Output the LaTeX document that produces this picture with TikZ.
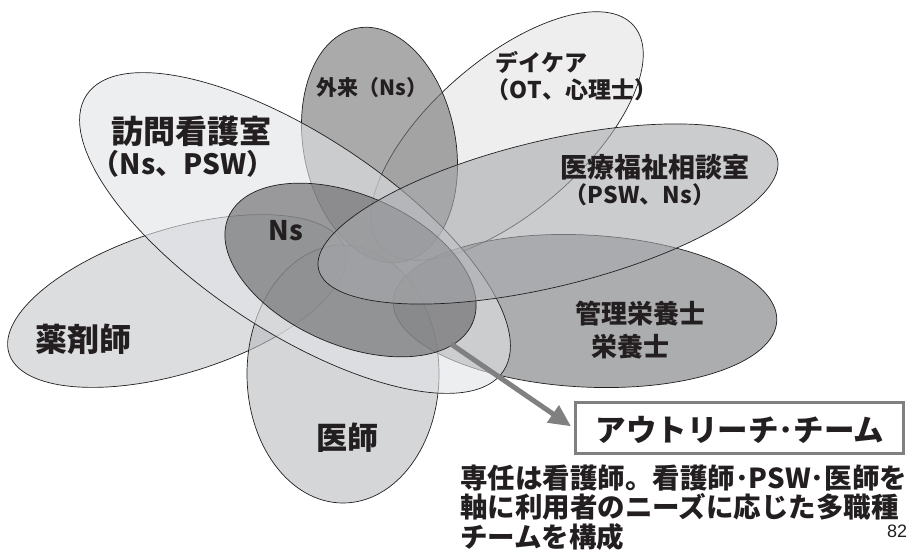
\documentclass[tikz,border=0pt]{standalone}
\usepackage{fontspec}
\setmainfont{Noto Sans CJK JP}
\newfontfamily\numfont{Liberation Sans}
\usetikzlibrary{arrows.meta}
\definecolor{cYaku}{RGB}{197,198,202}
\definecolor{cIshi}{RGB}{185,187,190}
\definecolor{cGai}{RGB}{113,113,113}
\definecolor{cDay}{RGB}{227,227,227}
\definecolor{cKan}{RGB}{116,118,121}
\definecolor{cHou}{RGB}{225,227,230}
\definecolor{cNs}{RGB}{98,98,100}
\definecolor{cIryo}{RGB}{168,170,173}
\definecolor{cInk}{RGB}{35,31,32}
\definecolor{cArrow}{RGB}{128,128,128}
\begin{document}
\begin{tikzpicture}[x=1pt,y=-1pt,
  petal/.style={fill opacity=0.6, draw=cInk, line width=0.7pt},
  lbl/.style={text=cInk, font=\bfseries\fontsize{#1}{#1}\selectfont, inner sep=0pt},
  teambox/.style={draw=cArrow, line width=3pt, fill=white, minimum width=328pt, minimum height=51pt, inner sep=0pt},
  bigarrow/.style={draw=cArrow, line width=5pt, -{Triangle[length=22pt,width=20pt]}}]
\useasboundingbox (0,0) rectangle (915,553);
% petals, bottom to top
\path[petal, fill=cDay, shift={(507,136)}, rotate=41] (0,0) ellipse [x radius=168pt, y radius=76pt];
\path[petal, fill=cYaku, shift={(177,301)}, rotate=17.3] (0,0) ellipse [x radius=176pt, y radius=72pt];
\path[petal, fill=cIshi, shift={(343,374)}] (0,0) ellipse [x radius=96pt, y radius=129pt];
\path[petal, fill=cGai, shift={(379.5,145)}, rotate=-79] (0,0) ellipse [x radius=119pt, y radius=76pt];
\path[petal, fill=cKan, shift={(585,311)}, rotate=-3] (0,0) ellipse [x radius=192pt, y radius=76pt];
\path[petal, fill=cHou, shift={(295,233)}, rotate=-33.5] (0,0) ellipse [x radius=250pt, y radius=98pt];
\path[petal, fill=cNs, shift={(350.5,270)}, rotate=-23.5] (0,0) ellipse [x radius=133pt, y radius=75pt];
\path[petal, fill=cIryo, shift={(548,214)}, rotate=13.6] (0,0) ellipse [x radius=236pt, y radius=73pt];
% labels
\node[lbl=21] (gairai) at (372,88) {外来（Ns）};
\node[lbl=23] (day1) at (541,62) {デイケア};
\node[lbl=23] (day2) at (572,90) {（OT、心理士）};
\node[lbl=32] (hou1) at (191,131) {訪問看護室};
\node[lbl=28] (hou2) at (183,164) {（Ns、PSW）};
\node[lbl=27] (ns) at (286,231) {Ns};
\node[lbl=27] (iryo1) at (655,167) {医療福祉相談室};
\node[lbl=23] (iryo2) at (640,195) {（PSW、Ns）};
\node[lbl=26] (kan1) at (640,314) {管理栄養士};
\node[lbl=26] (kan2) at (630,347) {栄養士};
\node[lbl=32] (yaku) at (83,339) {薬剤師};
\node[lbl=31] (ishi) at (347,438) {医師};
% outreach team
\node[teambox] (team) at (739,428) {};
\node[lbl=30.5] (teamtxt) at (740,430) {アウトリーチ･チーム};
\coordinate (arrowstart) at (451,344);
\draw[bigarrow, shorten >=3pt] (arrowstart) -- (team.west);
% description
\node[lbl=27.5, anchor=west] (desc1) at (460,478) {専任は看護師。看護師･PSW･医師を};
\node[lbl=27.5, anchor=west] (desc2) at (460,507) {軸に利用者のニーズに応じた多職種};
\node[lbl=27.5, anchor=west] (desc3) at (460,537) {チームを構成};
\node[text=cInk, font=\numfont\fontsize{18}{18}\selectfont, inner sep=0pt] (page) at (897,531) {82};
\end{tikzpicture}
\end{document}
